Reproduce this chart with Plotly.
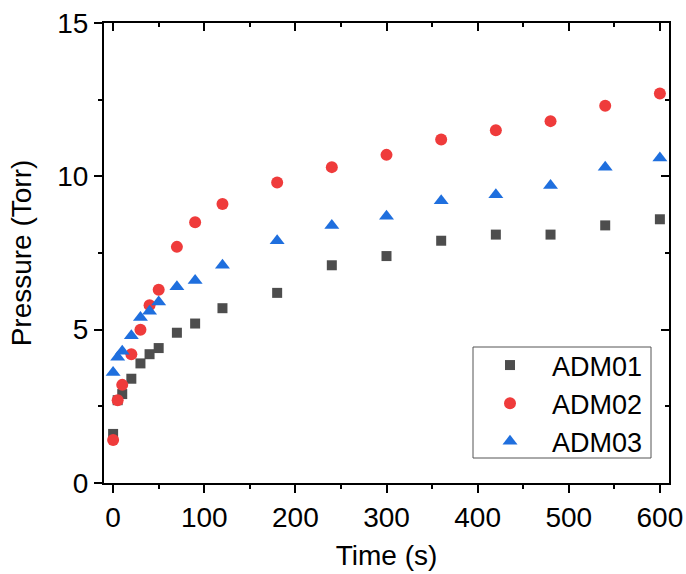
import plotly.graph_objects as go

time_s = [0, 5, 10, 20, 30, 40, 50, 70, 90, 120, 180, 240, 300, 360, 420, 480, 540, 600]
adm01 = [1.6, 2.7, 2.9, 3.4, 3.9, 4.2, 4.4, 4.9, 5.2, 5.7, 6.2, 7.1, 7.4, 7.9, 8.1, 8.1, 8.4, 8.6]
adm02 = [1.4, 2.7, 3.2, 4.2, 5.0, 5.8, 6.3, 7.7, 8.5, 9.1, 9.8, 10.3, 10.7, 11.2, 11.5, 11.8, 12.3, 12.7]
adm03 = [3.6, 4.1, 4.3, 4.8, 5.4, 5.6, 5.9, 6.4, 6.6, 7.1, 7.9, 8.4, 8.7, 9.2, 9.4, 9.7, 10.3, 10.6]
series_names = ["ADM01", "ADM02", "ADM03"]
x_ticks = [0, 100, 200, 300, 400, 500, 600]
y_ticks = [0, 5, 10, 15]

FONT = "Liberation Sans, Arial, sans-serif"
FS = 28

fig = go.Figure()
styles = [
    dict(symbol="square", size=10, color="#4d4d4d"),
    dict(symbol="circle", size=12, color="#ef3b3b"),
    dict(symbol="triangle-up", size=13, color="#1f6fde"),
]
for name, vals, st in zip(series_names, [adm01, adm02, adm03], styles):
    fig.add_trace(go.Scatter(
        x=time_s, y=vals, mode="markers", name=name,
        marker=dict(symbol=st["symbol"], size=st["size"], color=st["color"], line=dict(width=0)),
    ))

# dummy trace for mirror axes with inward ticks
fig.add_trace(go.Scatter(x=[], y=[], xaxis="x2", yaxis="y2", showlegend=False, hoverinfo="skip"))

axis_common = dict(
    showline=True, linecolor="black", linewidth=2, showgrid=False, zeroline=False,
    tickcolor="black", tickwidth=2, ticklen=8, automargin=False,
    ticklabeloverflow="allow",
    tickfont=dict(family=FONT, size=FS, color="black"),
)

L, R, T, B = 104, 17, 23, 91
PW, PH = 686 - L - R, 574 - T - B
BOTTOM = 574 - B  # pixel row of the x axis

fig.update_layout(
    width=686, height=574,
    margin=dict(l=L, r=R, t=T, b=B, autoexpand=False),
    paper_bgcolor="white", plot_bgcolor="white",
    font=dict(family=FONT, size=FS, color="black"),
    xaxis=dict(
        range=[-10, 610], tickvals=x_ticks, ticks="outside", mirror=True,
        minor=dict(ticks="outside", ticklen=4, tickwidth=2, tickcolor="black", dtick=50, tick0=0),
        title=dict(text="Time (s)", font=dict(family=FONT, size=FS), standoff=14),
        **axis_common,
    ),
    yaxis=dict(
        range=[0, 15], tickvals=y_ticks, ticks="outside", mirror=True,
        minor=dict(ticks="outside", ticklen=4, tickwidth=2, tickcolor="black", dtick=2.5, tick0=0),
        title=dict(text="Pressure (Torr)", font=dict(family=FONT, size=FS), standoff=17),
        **axis_common,
    ),
    xaxis2=dict(
        overlaying="x", side="top", matches="x", anchor="y2",
        tickvals=x_ticks, ticks="inside", showticklabels=False,
        minor=dict(ticks="inside", ticklen=4, tickwidth=2, tickcolor="black", dtick=50, tick0=0),
        **axis_common,
    ),
    yaxis2=dict(
        overlaying="y", side="right", matches="y", anchor="x2",
        tickvals=y_ticks, ticks="inside", showticklabels=False,
        minor=dict(ticks="inside", ticklen=4, tickwidth=2, tickcolor="black", dtick=2.5, tick0=0),
        **axis_common,
    ),
    legend=dict(
        x=(468 - L) / PW, y=(BOTTOM - 341) / PH, xanchor="left", yanchor="top",
        borderwidth=0, bgcolor="rgba(0,0,0,0)",
        font=dict(family=FONT, size=27, color="black"),
        itemwidth=74,
    ),
    shapes=[dict(
        type="rect", xref="paper", yref="paper",
        x0=(473 - L) / PW, x1=(651 - L) / PW,
        y0=(BOTTOM - 458) / PH, y1=(BOTTOM - 347) / PH,
        line=dict(color="#555555", width=1), fillcolor="rgba(0,0,0,0)", layer="above",
    )],
)

fig.write_html("out.html", config={"displayModeBar": False},
               post_script="document.body.style.margin='0px';")
